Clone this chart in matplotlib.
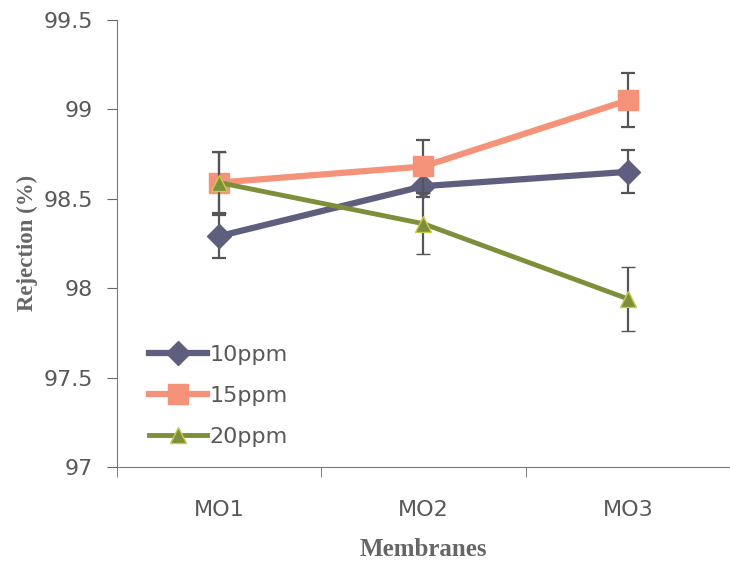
import matplotlib.pyplot as plt
import numpy as np

membranes = ['MO1', 'MO2', 'MO3']
ppm10 = [98.29, 98.57, 98.65]
ppm15 = [98.59, 98.68, 99.05]
ppm20 = [98.59, 98.36, 97.94]
err10 = [0.12, 0.06, 0.12]
err15 = [0.17, 0.15, 0.15]
err20 = [0.17, 0.17, 0.18]

x = np.arange(len(membranes))

fig = plt.figure(figsize=(7.3, 5.66), dpi=100)
ax = fig.add_axes([0.16, 0.175, 0.84, 0.79])

grey = '#595959'
ecol = '#555555'

ax.errorbar(x, ppm10, yerr=err10, color='#5e5f7f', lw=4.5, marker='D', ms=12,
            ecolor=ecol, elinewidth=1.6, capsize=5, capthick=1.6, label='10ppm', zorder=3)
ax.errorbar(x, ppm15, yerr=err15, color='#f5937a', lw=4.5, marker='s', ms=15,
            ecolor=ecol, elinewidth=1.6, capsize=5, capthick=1.6, label='15ppm', zorder=4)
ax.errorbar(x, ppm20, yerr=err20, color='#7d8f3a', lw=3.5, marker='^', ms=12,
            mec='#c9c94a', mew=1, ecolor=ecol, elinewidth=1.6, capsize=5, capthick=1.6,
            label='20ppm', zorder=5)

ax.set_xlim(-0.5, 2.5)
ax.set_ylim(97, 99.5)
ax.set_yticks([97, 97.5, 98, 98.5, 99, 99.5])
ax.set_yticklabels(['97', '97.5', '98', '98.5', '99', '99.5'])
ax.set_xticks(x)
ax.set_xticklabels(membranes)
ax.set_xticks([-0.5, 0.5, 1.5], minor=True)
ax.tick_params(axis='x', which='major', length=0, pad=24, labelsize=16, labelcolor=grey)
ax.tick_params(axis='x', which='minor', length=7, color='#666666', direction='out')
ax.tick_params(axis='y', length=7, color='#666666', labelsize=16, labelcolor=grey, pad=10)

ax.spines['top'].set_visible(False)
ax.spines['right'].set_visible(False)
ax.spines['left'].set_color('#8a6a9a')
ax.spines['bottom'].set_color('#8a6a9a')

ax.set_xlabel('Membranes', family='Liberation Serif', weight='bold', fontsize=18,
              color='#666666', labelpad=13)
ax.set_ylabel('Rejection (%)', family='Liberation Serif', weight='bold', fontsize=16.5,
              color='#666666', labelpad=4)

handles, labels = ax.get_legend_handles_labels()
leg = ax.legend([h[0] for h in handles], labels, loc='lower left',
                bbox_to_anchor=(0.02, 0.0), frameon=False, fontsize=16,
                handlelength=2.6, handletextpad=0.1, labelspacing=0.95, labelcolor=grey)

fig.savefig('out.png', dpi=100)
